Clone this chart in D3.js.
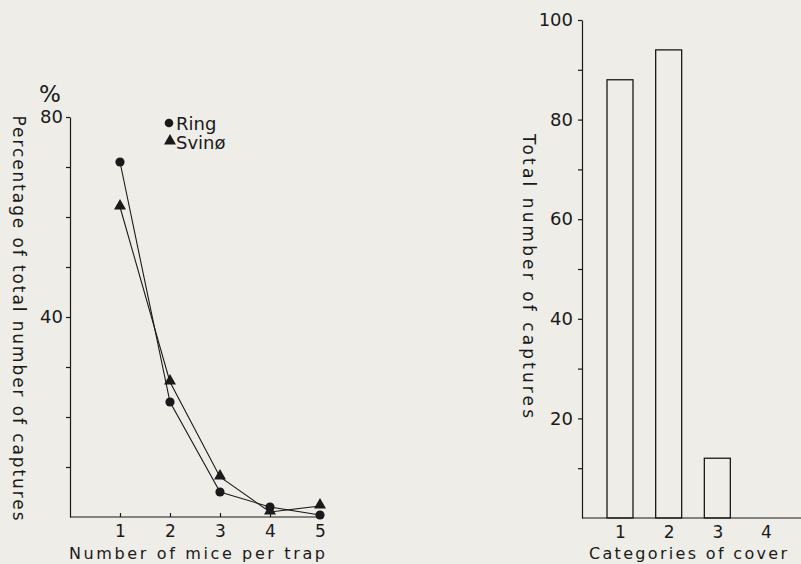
<!DOCTYPE html>
<html>
<head>
<meta charset="utf-8">
<script src="https://cdn.jsdelivr.net/npm/d3@7"></script>
<style>
	body { margin: 0; background: #eeede8; }
	svg { display: block; }
	text { font-family: "DejaVu Sans", sans-serif; fill: #1a1a1a; }
	.axis path, .axis line { stroke: #1a1a1a; stroke-width: 1.2; }
	.axis text { font-size: 18px; font-family: "DejaVu Sans", sans-serif; fill: #1a1a1a; }
	.axisx text { font-size: 17px; }
</style>
</head>
<body>
<svg class="viz" width="801" height="564"></svg>
<script>
// left panel: share of captures by number of mice per trap
let miceCounts = [1, 2, 3, 4, 5];
let ringPct = [71, 23, 5, 2, 0.4];
let svinoPct = [62, 27, 8, 1, 2.2];
let leftTicks = [10, 20, 30, 40, 50, 60, 70, 80];
let leftLabels = [40, 80];

// right panel: captures per cover category
let coverCats = [1, 2, 3, 4];
let captures = [88, 94, 12, 0];
let rightTicks = [10, 20, 30, 40, 50, 60, 70, 80, 90, 100];
let rightLabels = [20, 40, 60, 80, 100];

function render() {
	let grph = d3.select(".viz");
	const ink = "#1a1a1a";
	let intFmt = d3.format("d");

	// *** Left chart ***
	let x1 = d3.scaleLinear().domain([0, 5]).range([70, 320]);
	let y1 = d3.scaleLinear().domain([0, 80]).range([517, 117]);

	grph.append("g").attr("class", "axis axisx")
		.attr("transform", "translate(0," + y1(0) + ")")
		.call(d3.axisBottom(x1).tickValues(miceCounts).tickFormat(intFmt)
			.tickSizeInner(-4).tickSizeOuter(0).tickPadding(8))
		.call(g => g.select(".domain").attr("d", "M70,0H323"));

	grph.append("g").attr("class", "axis")
		.attr("transform", "translate(" + x1(0) + ",0)")
		.call(d3.axisLeft(y1).tickValues(leftTicks).tickSize(4).tickSizeOuter(0).tickPadding(3)
			.tickFormat(d => leftLabels.includes(d) ? d : ""));

	grph.append("text").attr("x", 50).attr("y", 102)
		.attr("text-anchor", "middle").style("font-size", "23px").text("%");

	grph.append("text")
		.attr("transform", "translate(13,318)rotate(90)")
		.attr("text-anchor", "middle").style("font-size", "17px")
		.attr("textLength", 405).attr("lengthAdjust", "spacing")
		.text("Percentage of total number of captures");

	grph.append("text").attr("x", 197).attr("y", 559)
		.attr("text-anchor", "middle").style("font-size", "16px")
		.attr("textLength", 256).attr("lengthAdjust", "spacing")
		.text("Number of mice per trap");

	let line = d3.line().x((d, i) => x1(miceCounts[i])).y(d => y1(d));
	let tri = d3.symbol().type(d3.symbolTriangle).size(62);

	grph.append("path").attr("d", line(ringPct))
		.attr("fill", "none").attr("stroke", ink).attr("stroke-width", 1.1);
	grph.append("path").attr("d", line(svinoPct))
		.attr("fill", "none").attr("stroke", ink).attr("stroke-width", 1.1);

	grph.selectAll(".ring").data(ringPct).enter().append("circle").attr("class", "ring")
		.attr("cx", (d, i) => x1(miceCounts[i])).attr("cy", d => y1(d))
		.attr("r", 4.6).attr("fill", ink);
	grph.selectAll(".svino").data(svinoPct).enter().append("path").attr("class", "svino")
		.attr("d", tri)
		.attr("transform", (d, i) => "translate(" + x1(miceCounts[i]) + "," + (y1(d) - 1) + ")")
		.attr("fill", ink);

	// legend
	grph.append("circle").attr("cx", 169).attr("cy", 123).attr("r", 4.3).attr("fill", ink);
	grph.append("text").attr("x", 176).attr("y", 130).style("font-size", "18px").text("Ring");
	grph.append("path").attr("d", tri).attr("transform", "translate(170,141)").attr("fill", ink);
	grph.append("text").attr("x", 176).attr("y", 149).style("font-size", "18px").text("Svinø");

	// *** Right chart ***
	let x2 = d3.scaleLinear().domain([1, 4]).range([620, 766]);
	let y2 = d3.scaleLinear().domain([0, 100]).range([518, 20]);
	const barW = 26;

	grph.append("g").attr("class", "axis axisx")
		.attr("transform", "translate(0," + y2(0) + ")")
		.call(d3.axisBottom(x2).tickValues(coverCats).tickFormat(intFmt).tickSize(0).tickPadding(8))
		.call(g => g.select(".domain").attr("d", "M582,0H801"));

	grph.append("g").attr("class", "axis")
		.attr("transform", "translate(582,0)")
		.call(d3.axisLeft(y2).tickValues(rightTicks).tickSize(4).tickSizeOuter(0).tickPadding(5)
			.tickFormat(d => rightLabels.includes(d) ? d : ""));

	grph.selectAll(".bar").data(captures).enter().append("rect").attr("class", "bar")
		.attr("x", (d, i) => x2(coverCats[i]) - barW / 2)
		.attr("y", d => y2(d))
		.attr("width", barW)
		.attr("height", d => y2(0) - y2(d))
		.attr("fill", "none").attr("stroke", ink).attr("stroke-width", 1.3)
		.style("display", d => d > 0 ? null : "none");

	grph.append("text")
		.attr("transform", "translate(523,276)rotate(90)")
		.attr("text-anchor", "middle").style("font-size", "17px")
		.attr("textLength", 284).attr("lengthAdjust", "spacing")
		.text("Total number of captures");

	grph.append("text").attr("x", 688).attr("y", 559)
		.attr("text-anchor", "middle").style("font-size", "16px")
		.attr("textLength", 198).attr("lengthAdjust", "spacing")
		.text("Categories of cover");
}

render();
</script>
</body>
</html>
